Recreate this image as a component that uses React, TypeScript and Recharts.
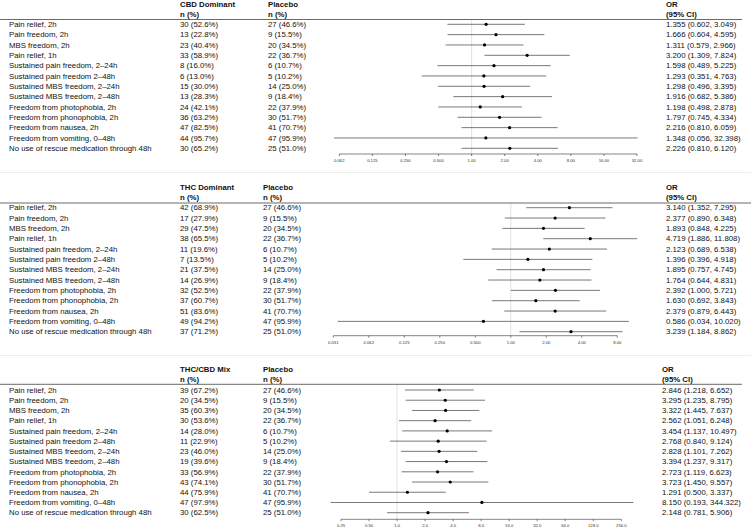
import React from 'react';
import { ScatterChart, Scatter, XAxis, YAxis, ReferenceLine } from 'recharts';

const FONT = '"Liberation Sans", Arial, Helvetica, sans-serif';

const outcomes = [
  'Pain relief, 2h',
  'Pain freedom, 2h',
  'MBS freedom, 2h',
  'Pain relief, 1h',
  'Sustained pain freedom, 2–24h',
  'Sustained pain freedom 2–48h',
  'Sustained MBS freedom, 2–24h',
  'Sustained MBS freedom, 2–48h',
  'Freedom from photophobia, 2h',
  'Freedom from phonophobia, 2h',
  'Freedom from nausea, 2h',
  'Freedom from vomiting, 0–48h',
  'No use of rescue medication through 48h',
];

const placeboN = [27, 9, 20, 22, 6, 5, 14, 9, 22, 30, 41, 47, 25];
const placeboPct = [46.6, 15.5, 34.5, 36.7, 10.7, 10.2, 25.0, 18.4, 37.9, 51.7, 70.7, 95.9, 51.0];

const cbdN = [30, 13, 23, 33, 8, 6, 15, 13, 24, 36, 47, 44, 30];
const cbdPct = [52.6, 22.8, 40.4, 58.9, 16.0, 13.0, 30.0, 28.3, 42.1, 63.2, 82.5, 95.7, 65.2];
const cbdOR = [1.355, 1.666, 1.311, 3.2, 1.598, 1.293, 1.298, 1.916, 1.198, 1.797, 2.216, 1.348, 2.226];
const cbdLo = [0.602, 0.604, 0.579, 1.309, 0.489, 0.351, 0.496, 0.682, 0.498, 0.745, 0.81, 0.056, 0.81];
const cbdHi = [3.049, 4.595, 2.966, 7.824, 5.225, 4.763, 3.395, 5.386, 2.878, 4.334, 6.059, 32.398, 6.12];

const thcN = [42, 17, 29, 38, 11, 7, 21, 14, 32, 37, 51, 49, 37];
const thcPct = [68.9, 27.9, 47.5, 65.5, 19.6, 13.5, 37.5, 26.9, 52.5, 60.7, 83.6, 94.2, 71.2];
const thcOR = [3.14, 2.377, 1.893, 4.719, 2.123, 1.396, 1.895, 1.764, 2.392, 1.63, 2.379, 0.586, 3.239];
const thcLo = [1.352, 0.89, 0.848, 1.886, 0.689, 0.396, 0.757, 0.644, 1.0, 0.692, 0.879, 0.034, 1.184];
const thcHi = [7.295, 6.348, 4.225, 11.808, 6.538, 4.918, 4.745, 4.831, 5.721, 3.843, 6.443, 10.02, 8.862];

const mixN = [39, 20, 35, 30, 14, 11, 23, 19, 33, 43, 44, 47, 30];
const mixPct = [67.2, 34.5, 60.3, 53.6, 28.0, 22.9, 46.0, 39.6, 56.9, 74.1, 75.9, 97.9, 62.5];
const mixOR = [2.846, 3.295, 3.322, 2.562, 3.454, 2.768, 2.828, 3.394, 2.723, 3.723, 1.291, 8.15, 2.148];
const mixLo = [1.218, 1.235, 1.445, 1.051, 1.137, 0.84, 1.101, 1.237, 1.119, 1.45, 0.5, 0.193, 0.781];
const mixHi = [6.652, 8.795, 7.637, 6.248, 10.497, 9.124, 7.262, 9.317, 6.623, 9.557, 3.337, 344.322, 5.906];

const ticksCbd = [0.0625, 0.125, 0.25, 0.5, 1, 2, 4, 8, 16, 32];
const tickLabelsCbd = ['0.062', '0.125', '0.250', '0.500', '1.00', '2.00', '4.00', '8.00', '16.00', '32.00'];
const ticksThc = [0.03125, 0.0625, 0.125, 0.25, 0.5, 1, 2, 4, 8];
const tickLabelsThc = ['0.031', '0.062', '0.125', '0.250', '0.500', '1.00', '2.00', '4.00', '8.00'];
const ticksMix = [0.25, 0.5, 1, 2, 4, 8, 16, 32, 64, 128, 256];
const tickLabelsMix = ['0.25', '0.50', '1.0', '2.0', '4.0', '8.0', '16.0', '32.0', '64.0', '128.0', '256.0'];

const groupNames = ['CBD Dominant', 'THC Dominant', 'THC/CBD Mix'];

type Layout = {
  top: number; height: number; headerLine: number; plotLeft: number; plotRight: number;
  yDomain: [number, number]; xAxisH: number; labelX: number; groupX: number; placeboX: number;
  orX: number; lineRight: number;
};

const layouts: Layout[] = [
  { top: 0, height: 172, headerLine: 19.5, plotLeft: 339.3, plotRight: 637, yDomain: [-0.465, 12.552], xAxisH: 18, labelX: 9, groupX: 180, placeboX: 268, orX: 666, lineRight: 742 },
  { top: 172, height: 183, headerLine: 31, plotLeft: 333.3, plotRight: 617.3, yDomain: [-0.455, 12.387], xAxisH: 19.3, labelX: 9, groupX: 180, placeboX: 263, orX: 666, lineRight: 751 },
  { top: 355, height: 174, headerLine: 29.3, plotLeft: 341, plotRight: 621.3, yDomain: [-0.558, 12.646], xAxisH: 9.7, labelX: 9, groupX: 180, placeboX: 263, orX: 662, lineRight: 742 },
];

const W = 751;
const FS = 7.8;
const rowIdx = outcomes.map((_, i) => i);
const fmtN = (n: number, p: number) => `${n} (${p.toFixed(1)}%)`;

type PanelProps = {
  layout: Layout; group: string; n: number[]; pct: number[]; or: number[]; lo: number[]; hi: number[];
  ticks: number[]; tickLabels: string[];
};

function Panel({ layout, group, n, pct, or, lo, hi, ticks, tickLabels }: PanelProps) {
  const data = or.map((v, i) => ({ x: v, y: i }));
  const renderRowTick = (props: any) => {
    const { y, payload } = props;
    const i = payload.value as number;
    const common = { y, dy: '0.35em', fontSize: FS, fill: '#111', fontFamily: FONT } as any;
    return (
      <g>
        <text x={layout.labelX} {...common}>{outcomes[i]}</text>
        <text x={layout.groupX} {...common}>{fmtN(n[i], pct[i])}</text>
        <text x={layout.placeboX} {...common}>{fmtN(placeboN[i], placeboPct[i])}</text>
        <text x={layout.orX} {...common}>{`${or[i].toFixed(3)} (${lo[i].toFixed(3)}, ${hi[i].toFixed(3)})`}</text>
      </g>
    );
  };
  const hl = layout.headerLine;
  const hdr = { fontSize: FS, fill: '#111', fontFamily: FONT, fontWeight: 700, dy: '0.35em' } as any;
  return (
    <div style={{ position: 'absolute', left: 0, top: layout.top, width: W, height: layout.height }}>
      <ScatterChart
        width={W}
        height={layout.height}
        margin={{ top: hl, right: W - layout.plotRight, bottom: 0, left: 0 }}
      >
        <XAxis
          type="number"
          dataKey="x"
          scale="log"
          domain={[ticks[0], ticks[ticks.length - 1]]}
          allowDataOverflow
          ticks={ticks}
          interval={0}
          tickFormatter={(v: number) => tickLabels[ticks.indexOf(v)] ?? String(v)}
          height={layout.xAxisH}
          tickSize={2}
          tickMargin={3}
          tick={{ fontSize: 4.2, fill: '#333', fontFamily: FONT }}
          axisLine={{ stroke: '#333', strokeWidth: 0.6 }}
          tickLine={{ stroke: '#333', strokeWidth: 0.6 }}
        />
        <YAxis
          type="number"
          dataKey="y"
          reversed
          domain={layout.yDomain}
          allowDataOverflow
          ticks={rowIdx}
          interval={0}
          width={layout.plotLeft}
          axisLine={false}
          tickLine={false}
          tick={renderRowTick}
        />
        <ReferenceLine x={1} stroke="#cfcfcf" strokeWidth={0.6} />
        {rowIdx.map((i) => (
          <ReferenceLine
            key={i}
            segment={[{ x: lo[i], y: i }, { x: hi[i], y: i }]}
            ifOverflow="visible"
            stroke="#555"
            strokeWidth={0.8}
          />
        ))}
        <Scatter
          data={data}
          isAnimationActive={false}
          fill="#000"
          shape={(p: any) => <circle cx={p.cx} cy={p.cy} r={1.6} fill="#000" />}
        />
      </ScatterChart>
      <svg
        width={W}
        height={layout.height}
        style={{ position: 'absolute', left: 0, top: 0, pointerEvents: 'none' }}
      >
        <text x={layout.groupX} y={hl - 15.5} {...hdr}>{group}</text>
        <text x={layout.groupX} y={hl - 5.5} {...hdr}>n (%)</text>
        <text x={layout.placeboX} y={hl - 15.5} {...hdr}>Placebo</text>
        <text x={layout.placeboX} y={hl - 5.5} {...hdr}>n (%)</text>
        <text x={layout.orX} y={hl - 15.5} {...hdr}>OR</text>
        <text x={layout.orX} y={hl - 5.5} {...hdr}>(95% CI)</text>
        <line x1={0} x2={layout.lineRight} y1={hl} y2={hl} stroke="#444" strokeWidth={0.8} />
        {layout.top > 0 && <line x1={0} x2={W} y1={0.5} y2={0.5} stroke="#ececec" strokeWidth={1} />}
      </svg>
    </div>
  );
}

export default function App() {
  return (
    <div style={{ position: 'absolute', left: 0, top: 0, width: W, height: 529, background: '#fff', fontFamily: FONT }}>
      <Panel layout={layouts[0]} group={groupNames[0]} n={cbdN} pct={cbdPct} or={cbdOR} lo={cbdLo} hi={cbdHi} ticks={ticksCbd} tickLabels={tickLabelsCbd} />
      <Panel layout={layouts[1]} group={groupNames[1]} n={thcN} pct={thcPct} or={thcOR} lo={thcLo} hi={thcHi} ticks={ticksThc} tickLabels={tickLabelsThc} />
      <Panel layout={layouts[2]} group={groupNames[2]} n={mixN} pct={mixPct} or={mixOR} lo={mixLo} hi={mixHi} ticks={ticksMix} tickLabels={tickLabelsMix} />
    </div>
  );
}
